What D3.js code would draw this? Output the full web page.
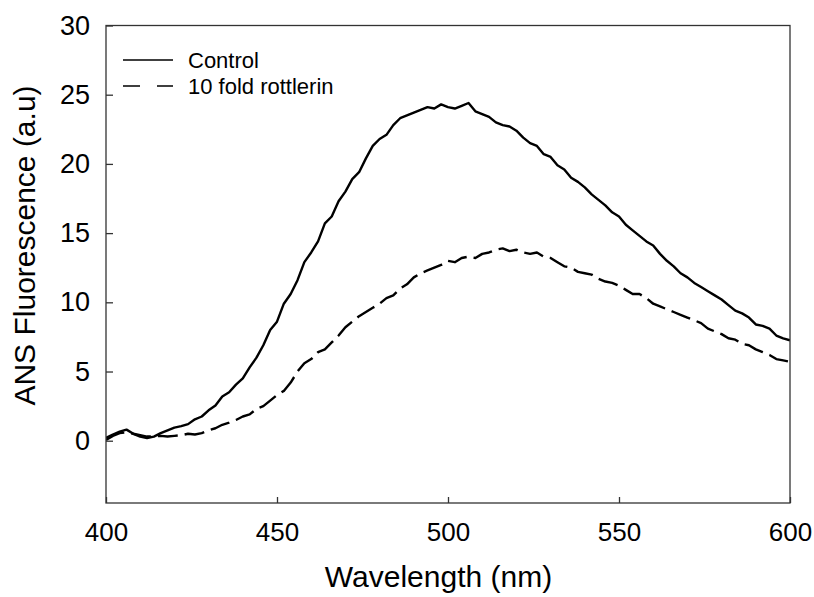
<!DOCTYPE html>
<html>
<head>
<meta charset="utf-8">
<script src="https://cdn.jsdelivr.net/npm/d3@7"></script>
<style>
html,body{margin:0;padding:0;background:#fff;}
svg text{font-family:"Liberation Sans",Arial,Helvetica,sans-serif;fill:#000;}
</style>
</head>
<body>
<svg id="chart" width="814" height="597"></svg>
<script>
// ---- data ----
const wavelengths = d3.range(400, 601, 2);
const controlValues = [
  0.2, 0.45, 0.65, 0.8, 0.5, 0.3, 0.2, 0.3, 0.55, 0.75,
  0.95, 1.05, 1.2, 1.55, 1.75, 2.2, 2.55, 3.2, 3.5, 4.05,
  4.5, 5.3, 6.0, 6.9, 8.0, 8.6, 9.9, 10.6, 11.6, 12.9,
  13.6, 14.4, 15.7, 16.2, 17.3, 18.0, 18.9, 19.4, 20.4, 21.3,
  21.8, 22.1, 22.8, 23.3, 23.5, 23.7, 23.9, 24.1, 24.0, 24.3,
  24.1, 24.0, 24.2, 24.4, 23.8, 23.6, 23.4, 23.0, 22.8, 22.7,
  22.4, 21.9, 21.5, 21.3, 20.7, 20.5, 19.9, 19.6, 19.0, 18.7,
  18.3, 17.8, 17.4, 17.0, 16.5, 16.2, 15.6, 15.2, 14.8, 14.4,
  14.1, 13.5, 13.0, 12.6, 12.1, 11.8, 11.4, 11.1, 10.8, 10.5,
  10.2, 9.8, 9.4, 9.2, 8.9, 8.4, 8.3, 8.1, 7.6, 7.4,
  7.25
];
const rottlerinValues = [
  0.05, 0.35, 0.55, 0.6, 0.5, 0.4, 0.3, 0.3, 0.35, 0.3,
  0.35, 0.4, 0.5, 0.45, 0.55, 0.75, 0.9, 1.15, 1.3, 1.5,
  1.75, 1.9, 2.3, 2.5, 2.9, 3.3, 3.6, 4.2, 5.0, 5.6,
  5.9, 6.4, 6.6, 7.1, 7.6, 8.2, 8.6, 9.0, 9.3, 9.6,
  9.9, 10.3, 10.5, 11.0, 11.3, 11.8, 12.1, 12.3, 12.5, 12.7,
  13.0, 12.9, 13.2, 13.3, 13.2, 13.5, 13.6, 13.8, 13.9, 13.7,
  13.8, 13.6, 13.5, 13.6, 13.3, 13.2, 12.9, 12.6, 12.5, 12.2,
  12.1, 12.0, 11.7, 11.5, 11.4, 11.2, 10.9, 10.6, 10.6, 10.3,
  9.9, 9.7, 9.5, 9.3, 9.1, 8.9, 8.7, 8.5, 8.1, 7.9,
  7.7, 7.4, 7.3, 7.0, 6.9, 6.6, 6.4, 6.2, 5.9, 5.8,
  5.7
];
const xTicks = [400, 450, 500, 550, 600];
const yTicks = [0, 5, 10, 15, 20, 25, 30];
const seriesNames = ["Control", "10 fold rottlerin"];
const xTitle = "Wavelength (nm)";
const yTitle = "ANS Fluorescence (a.u)";

// ---- layout ----
const svg = d3.select("#chart");
const L = 106, R = 790, T = 25.5, B = 503;
const x = d3.scaleLinear().domain([400, 600]).range([L, R]);
const y = d3.scaleLinear().domain([-4.5, 30]).range([B, T]);
const frameColor = "#333";

// curves
const line = d3.line().x(d => x(d[0])).y(d => y(d[1])).curve(d3.curveLinear);
const ctrl = wavelengths.map((w, i) => [w, controlValues[i]]);
const rott = wavelengths.map((w, i) => [w, rottlerinValues[i]]);

svg.append("defs").append("clipPath").attr("id", "clip")
  .append("rect").attr("x", L).attr("y", T).attr("width", R - L).attr("height", B - T);

const g = svg.append("g").attr("clip-path", "url(#clip)");
g.append("path").datum(ctrl).attr("d", line)
  .attr("fill", "none").attr("stroke", "#000").attr("stroke-width", 2.4)
  .attr("stroke-linejoin", "round");
g.append("path").datum(rott).attr("d", line)
  .attr("fill", "none").attr("stroke", "#000").attr("stroke-width", 2.4)
  .attr("stroke-dasharray", "20,7").attr("stroke-linejoin", "round");

// frame
svg.append("rect").attr("x", L).attr("y", T).attr("width", R - L).attr("height", B - T)
  .attr("fill", "none").attr("stroke", frameColor).attr("stroke-width", 1.3);

// axes
const xAxis = d3.axisBottom(x).tickValues(xTicks).tickSizeInner(-6).tickSizeOuter(0).tickPadding(20);
const gx = svg.append("g").attr("transform", `translate(0,${B})`).call(xAxis);
gx.select(".domain").remove();
gx.selectAll(".tick line").attr("stroke", frameColor).attr("stroke-width", 1.3);
gx.selectAll(".tick text").attr("font-size", 26).attr("dy", "0.71em")
  .style("font-family", '"Liberation Sans", Arial, sans-serif').attr("fill", "#000");

const yAxis = d3.axisLeft(y).tickValues(yTicks).tickSizeInner(-7).tickSizeOuter(0).tickPadding(16);
const gy = svg.append("g").attr("transform", `translate(${L},0)`).call(yAxis);
gy.select(".domain").remove();
gy.selectAll(".tick line").attr("stroke", frameColor).attr("stroke-width", 1.3);
gy.selectAll(".tick text").attr("font-size", 27)
  .style("font-family", '"Liberation Sans", Arial, sans-serif').attr("fill", "#000");

// axis titles
svg.append("text").attr("x", 438.5).attr("y", 587).attr("text-anchor", "middle")
  .attr("font-size", 30).text(xTitle);
svg.append("text").attr("transform", "translate(35,245.5) rotate(-90)")
  .attr("text-anchor", "middle").attr("font-size", 30).text(yTitle);

// legend
const leg = svg.append("g");
const legRows = [{y: 60, dash: null}, {y: 86, dash: "17,17"}];
legRows.forEach((r, i) => {
  leg.append("line").attr("x1", 123).attr("x2", 173).attr("y1", r.y).attr("y2", r.y)
    .attr("stroke", "#000").attr("stroke-width", 1.4)
    .attr("stroke-dasharray", r.dash);
  leg.append("text").attr("x", 188).attr("y", r.y + 7.5).attr("font-size", 22)
    .text(seriesNames[i]);
});
</script>
</body>
</html>
